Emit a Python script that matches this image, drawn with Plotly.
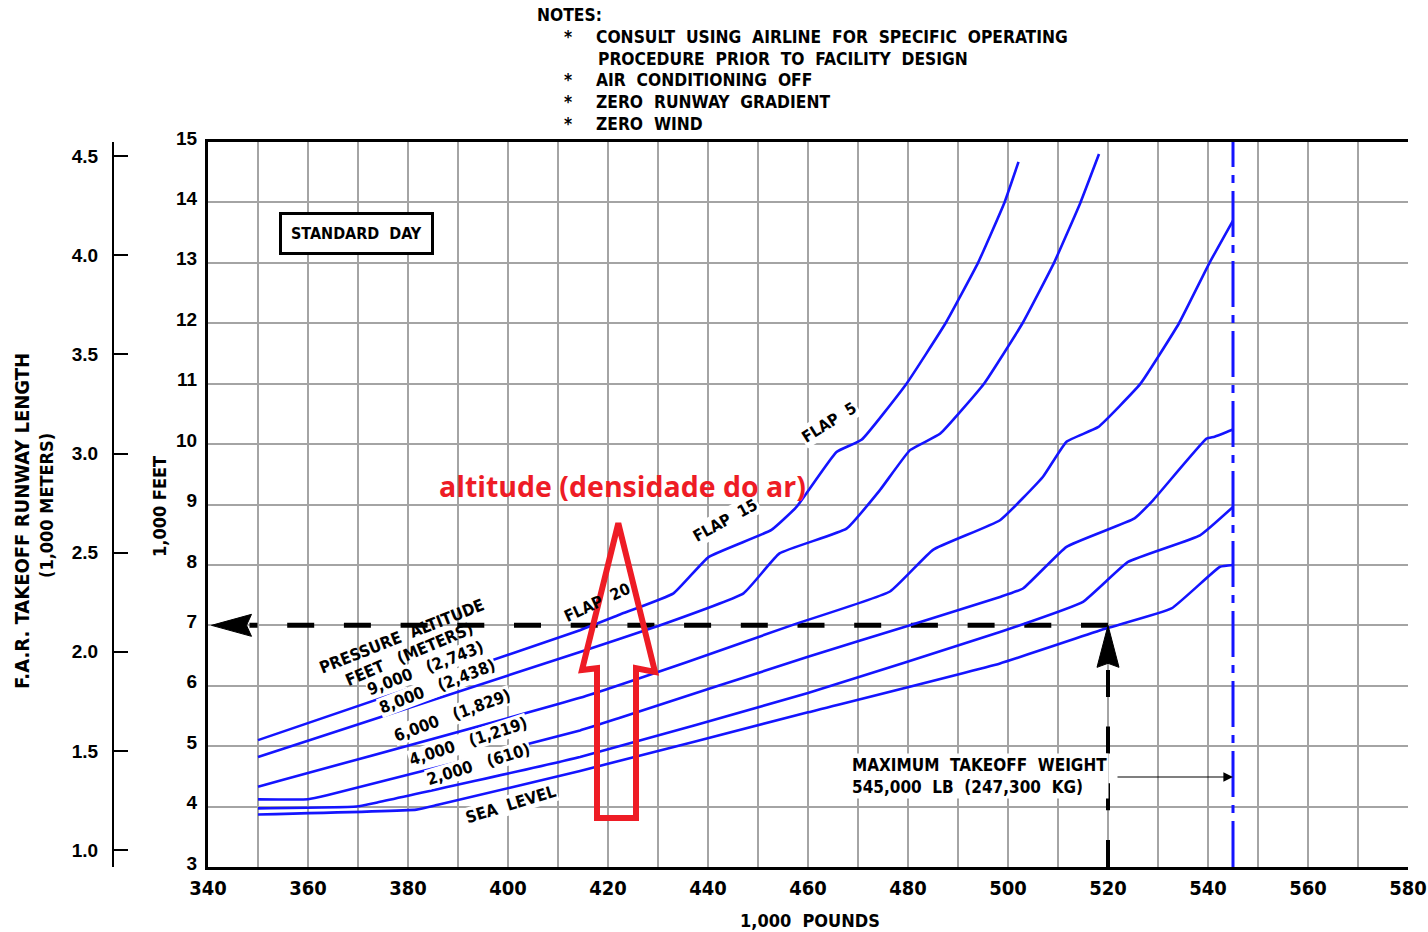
import plotly.graph_objects as go

W, H = 1428, 932
PLOT_L, PLOT_R, PLOT_T, PLOT_B = 208, 1408, 142, 867

# ---------------- data (x: 1,000 lb, y: 1,000 ft) ----------------
wt_sl = [350, 381.7, 386, 414.4, 460, 498.4, 519.7, 532.7, 542.4, 545]
len_sl = [3.87, 3.95, 4.03, 4.59, 5.56, 6.37, 6.95, 7.28, 7.97, 8.00]

wt_2000 = [350, 369.7, 374, 414.4, 460, 498.4, 515, 524, 538.4, 545]
len_2000 = [3.97, 4.00, 4.07, 4.82, 5.88, 6.89, 7.39, 8.05, 8.49, 8.96]

wt_4000 = [350, 360, 364, 414.4, 422.4, 460, 480.4, 498.4, 503, 511.7, 525.3, 529, 539.7, 541.3, 545]
len_4000 = [4.12, 4.12, 4.19, 5.26, 5.47, 6.48, 7.00, 7.47, 7.61, 8.30, 8.77, 9.07, 10.09, 10.12, 10.24]

wt_6000 = [350, 414.4, 435.7, 457.4, 476.4, 485, 498.4, 507, 511.7, 518, 526.5, 534.2, 540.3, 545]
len_6000 = [4.33, 5.80, 6.39, 7.02, 7.56, 8.25, 8.74, 9.46, 10.04, 10.28, 11.0, 12.0, 13.0, 13.7]

wt_8000 = [350, 414.4, 429.7, 447.1, 454.3, 467.7, 474.4, 480.4, 486.4, 495.2, 502.9, 509.2, 514.5, 518.2]
len_8000 = [4.82, 6.56, 6.98, 7.53, 8.19, 8.60, 9.24, 9.90, 10.17, 11.0, 12.0, 13.0, 14.0, 14.8]

wt_9000 = [350, 414.4, 422.4, 433.1, 440.1, 452.7, 457.7, 465.7, 470.7, 479.7, 487.5, 494.0, 499.3, 502.1]
len_9000 = [5.10, 6.92, 7.18, 7.53, 8.13, 8.58, 8.96, 9.87, 10.07, 11.0, 12.0, 13.0, 14.0, 14.67]

curves = [
    (wt_sl, len_sl), (wt_2000, len_2000), (wt_4000, len_4000),
    (wt_6000, len_6000), (wt_8000, len_8000), (wt_9000, len_9000),
]

x_tick_vals = [340, 360, 380, 400, 420, 440, 460, 480, 500, 520, 540, 560, 580]
y_tick_ft = [3, 4, 5, 6, 7, 8, 9, 10, 11, 12, 13, 14, 15]
y_tick_m = [1.0, 1.5, 2.0, 2.5, 3.0, 3.5, 4.0, 4.5]

MTOW = 545          # 1,000 lb
EX_WEIGHT = 520     # example weight (1,000 lb)
EX_LENGTH = 7       # example runway length (1,000 ft)
EX_ARROW_TIP = 340.7
FT_TO_KM = 0.3048

# ---------------- styling ----------------
BLUE = "#1414ff"
RED = "#ee1c25"
GRID = "#a4a4a4"
CAD = "DejaVu Sans Condensed, Liberation Sans Narrow, Arial Narrow, sans-serif"
NUM = "Liberation Sans, Arial, sans-serif"


def pxx(x):
    return x / W


def pxy(y):
    return 1 - y / H


fig = go.Figure()

# example dashed lines
fig.add_trace(go.Scatter(x=[EX_WEIGHT, EX_ARROW_TIP + 7.6], y=[EX_LENGTH, EX_LENGTH], mode="lines",
                         line=dict(color="black", width=5, dash="27px,29.7px"), hoverinfo="skip"))
fig.add_trace(go.Scatter(x=[EX_WEIGHT, EX_WEIGHT], y=[3, EX_LENGTH - 0.6], mode="lines",
                         line=dict(color="black", width=4, dash="27px,29.7px"), hoverinfo="skip"))

# MTOW line
fig.add_trace(go.Scatter(x=[MTOW, MTOW], y=[3, 15], mode="lines",
                         line=dict(color=BLUE, width=3, dash="46px,8px,8px,8px"), hoverinfo="skip"))

for wx, ly in curves:
    fig.add_trace(go.Scatter(x=wx, y=ly, mode="lines",
                             line=dict(color=BLUE, width=2.6, shape="spline", smoothing=0.35),
                             hoverinfo="skip"))

# invisible trace so the metric axis is drawn
fig.add_trace(go.Scatter(x=[340], y=[1.0], yaxis="y2", mode="markers",
                         marker=dict(opacity=0), hoverinfo="skip"))

annotations = []


def ann(text, x, y, size=16, angle=0, bg=None, font=CAD, xref="x", yref="y",
        xanchor="center", color="black", weight="bold", **kw):
    d = dict(text=text, x=x, y=y, xref=xref, yref=yref, showarrow=False,
             textangle=angle, xanchor=xanchor, yanchor="middle",
             font=dict(family=font, size=size, color=color, weight=weight))
    if bg:
        d["bgcolor"] = bg
    d.update(kw)
    annotations.append(d)


S = "\u00a0"
sp = lambda t: t.replace("  ", " " + S)

# notes
NS = 17.3
ann("NOTES:", pxx(535), pxy(15), size=NS, xref="paper", yref="paper", xanchor="left")
note_lines = [
    ("*", 562, 37), (sp("CONSULT  USING  AIRLINE  FOR  SPECIFIC  OPERATING"), 594, 37),
    (sp("PROCEDURE  PRIOR  TO  FACILITY  DESIGN"), 596, 59),
    ("*", 562, 80), (sp("AIR  CONDITIONING  OFF"), 594, 80),
    ("*", 562, 102), (sp("ZERO  RUNWAY  GRADIENT"), 594, 102),
    ("*", 562, 124), (sp("ZERO  WIND"), 594, 124),
]
for t, x, y in note_lines:
    ann(t, pxx(x), pxy(y), size=NS, xref="paper", yref="paper", xanchor="left")

# standard day box
ann(sp("STANDARD  DAY"), 369.7, 13.49, size=16, bg="white", bordercolor="black",
    borderwidth=3, borderpad=9)

# flap labels
ann(sp("FLAP  5"), 464.2, 10.35, size=16, angle=-32, bg="white")
ann(sp("FLAP  15"), 443.4, 8.73, size=16, angle=-29, bg="white")
ann(sp("FLAP  20"), 417.8, 7.37, size=16, angle=-25)

# pressure altitude labels
ann(sp("PRESSURE  ALTITUDE"), 378.7, 6.82, size=16.5, angle=-21.5)
ann(sp("FEET   (METERS)"), 380.2, 6.51, size=16.5, angle=-23)
ann(sp("9,000   (2,743)"), 383.4, 6.29, size=16.5, angle=-21, bg="white", borderpad=0)
ann(sp("8,000   (2,438)"), 385.9, 5.98, size=16.5, angle=-21, bg="white", borderpad=0)
ann(sp("6,000   (1,829)"), 388.9, 5.50, size=16.5, angle=-20, bg="white", borderpad=0)
ann(sp("4,000   (1,219)"), 392.1, 5.07, size=16.5, angle=-18, bg="white", borderpad=0)
ann(sp("2,000   (610)"), 394.0, 4.70, size=16.5, angle=-17, bg="white", borderpad=0)
ann(sp("SEA  LEVEL"), 400.6, 4.04, size=16.5, angle=-17, bg="white", borderpad=0)

# MTOW note
ann(sp("MAXIMUM  TAKEOFF  WEIGHT") + "<br>" + sp("545,000  LB  (247,300  KG)"), 494.2, 4.50,
    size=17, bg="white", align="left")
annotations.append(dict(x=MTOW, y=4.49, ax=521.6, ay=4.49, xref="x", yref="y",
                        axref="x", ayref="y", text="", showarrow=True, arrowhead=2,
                        arrowsize=1.6, arrowwidth=1.2, arrowcolor="black"))

# red annotation text
ann("altitude (densidade do ar)", 422.9, 9.30, size=28.5, color=RED,
    font="Open Sans, Noto Sans, sans-serif")

# axis titles
ann(sp("1,000  POUNDS"), pxx(810), pxy(920), size=18, xref="paper", yref="paper")
ann("1,000 FEET", pxx(160), pxy(507), size=18, angle=-90, xref="paper", yref="paper")
ann("F.A.R. TAKEOFF RUNWAY LENGTH", pxx(22), pxy(521), size=20, angle=-90,
    xref="paper", yref="paper")
ann("(1,000 METERS)", pxx(46), pxy(505), size=18, angle=-90, xref="paper", yref="paper")

shapes = [
    # red hollow arrow
    dict(type="path", xref="x", yref="y",
         path="M 422.06,8.69 L 429.4,6.23 L 425.6,6.29 L 425.6,3.81 L 417.8,3.81 "
              "L 417.8,6.29 L 414.8,6.26 Z",
         line=dict(color=RED, width=6), layer="above"),
    # left arrowhead on dashed line
    dict(type="path", xref="x", yref="y", xsizemode="pixel", ysizemode="pixel",
         xanchor=EX_ARROW_TIP, yanchor=EX_LENGTH,
         path="M 0,0 L 40,11 L 35,0 L 40,-11 Z", fillcolor="black",
         line=dict(color="black", width=1), layer="above"),
    # up arrowhead
    dict(type="path", xref="x", yref="y", xsizemode="pixel", ysizemode="pixel",
         xanchor=EX_WEIGHT, yanchor=EX_LENGTH,
         path="M 0,0 L -11,-42 L 0,-38 L 11,-42 Z", fillcolor="black",
         line=dict(color="black", width=1), layer="above"),
]

x_dom = [PLOT_L / W, PLOT_R / W]
y_dom = [1 - PLOT_B / H, 1 - PLOT_T / H]

fig.update_layout(
    width=W, height=H, margin=dict(l=0, r=0, t=0, b=0, autoexpand=False),
    paper_bgcolor="white", plot_bgcolor="white", showlegend=False,
    xaxis=dict(domain=x_dom, range=[340, 580], tickvals=x_tick_vals,
               showgrid=True, gridcolor=GRID, gridwidth=2,
               minor=dict(dtick=10, tick0=340, showgrid=True, gridcolor=GRID, gridwidth=2),
               showline=True, linecolor="black", linewidth=3, mirror=True,
               ticks="", ticklabelstandoff=1, automargin=False, zeroline=False,
               ticklabeloverflow="allow",
               tickfont=dict(family=CAD, size=20, color="black", weight="bold")),
    yaxis=dict(domain=y_dom, range=[3, 15], tickvals=y_tick_ft,
               showgrid=True, gridcolor=GRID, gridwidth=2,
               showline=True, linecolor="black", linewidth=3, mirror=False,
               ticks="", ticklabelstandoff=4, ticklabelshift=-4, automargin=False,
               zeroline=False,
               tickfont=dict(family=NUM, size=19, color="black", weight="bold")),
    yaxis2=dict(overlaying="y", anchor="free", position=113 / W, side="left",
                range=[3 * FT_TO_KM, 15 * FT_TO_KM], tickvals=y_tick_m,
                ticktext=[f"{v:.1f}" for v in y_tick_m],
                showgrid=False, zeroline=False, showline=True, linecolor="black",
                linewidth=2, ticks="inside", ticklen=14, tickwidth=2, tickcolor="black",
                ticklabelstandoff=10, automargin=False,
                tickfont=dict(family=NUM, size=19, color="black", weight="bold")),
    annotations=annotations,
    shapes=shapes,
)

fig.write_html("out.html")
